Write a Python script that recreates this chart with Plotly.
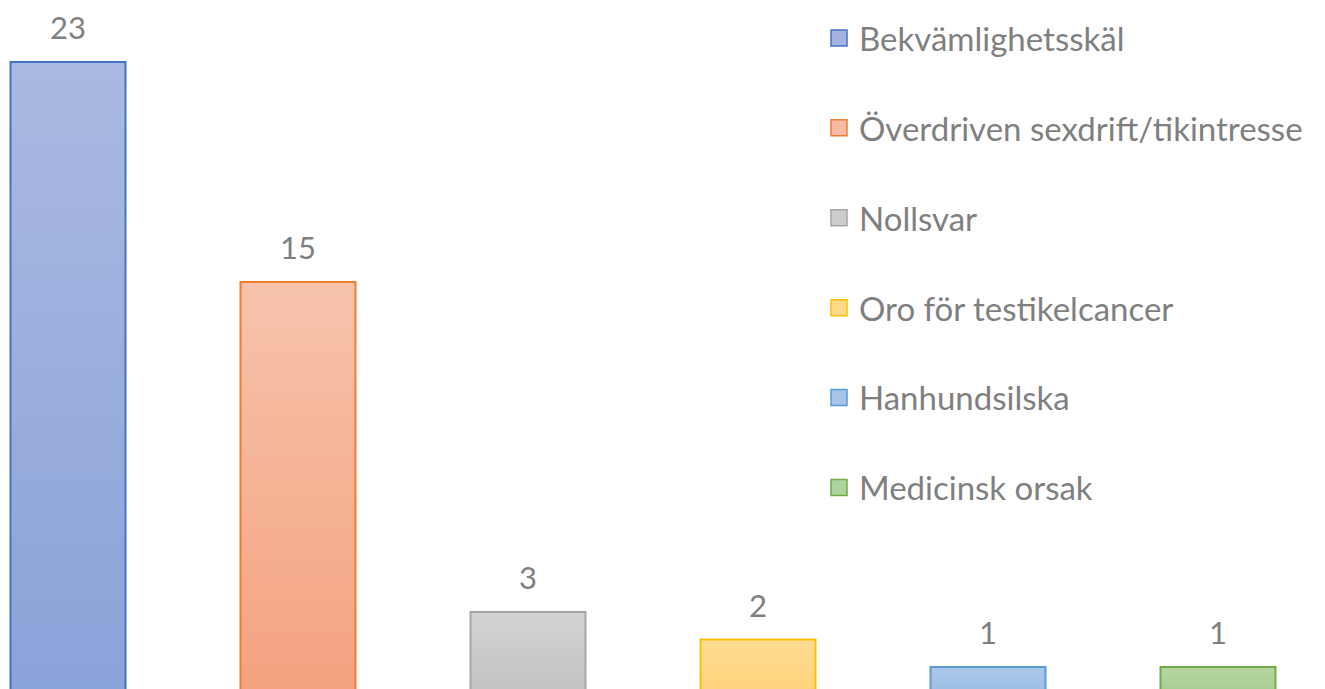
import plotly.graph_objects as go

categories = ["Bekvämlighetsskäl", "Överdriven sexdrift/tikintresse", "Nollsvar",
              "Oro för testikelcancer", "Hanhundsilska", "Medicinsk orsak"]
values = [23, 15, 3, 2, 1, 1]

line_colors = ["#4472C4", "#ED7D31", "#A5A5A5", "#FFC000", "#5B9BD5", "#70AD47"]
top_colors = ["#AAB9E1", "#F7C3AC", "#D3D3D3", "#FFDC94", "#ABC8E9", "#B4D6A2"]
bottom_colors = ["#8AA3D9", "#F4A27F", "#C2C2C2", "#FFD27A", "#9BBDE4", "#A5CE8F"]
mid_colors = ["#A2B4DF", "#F6BBA0", "#CDCDCD", "#FFD98A", "#A6C4E8", "#AED39C"]

BAR_W = 0.5
FONT = "Lato, 'Open Sans', sans-serif"
TXT = "#7F7F7F"

W, H = 1317, 681          # page body has an 8px margin
X0_PX, STEP_PX = 60, 230  # x pixel of category 0 and spacing
BASE_PX, UNIT_PX = 686.5, 27.5

fig = go.Figure()

for i, (cat, v) in enumerate(zip(categories, values)):
    x0, x1 = i - BAR_W / 2, i + BAR_W / 2
    fig.add_trace(go.Scatter(
        x=[x0, x0, x1, x1, x0], y=[0, v, v, 0, 0],
        mode="lines", fill="toself",
        fillgradient=dict(type="vertical",
                          colorscale=[[0, bottom_colors[i]], [1, top_colors[i]]]),
        line=dict(color=line_colors[i], width=2),
        showlegend=False, hoverinfo="skip",
    ))
    # legend entry
    fig.add_trace(go.Scatter(
        x=[None], y=[None], name=cat, legendgroup=cat, mode="markers",
        marker=dict(symbol="square", size=16, color=mid_colors[i],
                    line=dict(color=line_colors[i], width=1.5)),
    ))
    fig.add_annotation(x=i, y=v, text=str(v), showarrow=False,
                       yanchor="bottom", yshift=14,
                       font=dict(family=FONT, size=31, color=TXT))

fig.update_layout(
    width=W, height=H,
    margin=dict(l=0, r=0, t=0, b=0),
    paper_bgcolor="white", plot_bgcolor="white",
    xaxis=dict(range=[-X0_PX / STEP_PX, (W - X0_PX) / STEP_PX],
               visible=False, fixedrange=True),
    yaxis=dict(range=[(BASE_PX - H) / UNIT_PX, BASE_PX / UNIT_PX],
               visible=False, fixedrange=True),
    legend=dict(x=811 / W, xanchor="left", y=1 - 2 / H, yanchor="top",
                traceorder="grouped", tracegroupgap=44, itemsizing="trace",
                font=dict(family=FONT, size=33, color=TXT),
                bgcolor="rgba(0,0,0,0)"),
    showlegend=True,
)

fig.write_html("out.html")
